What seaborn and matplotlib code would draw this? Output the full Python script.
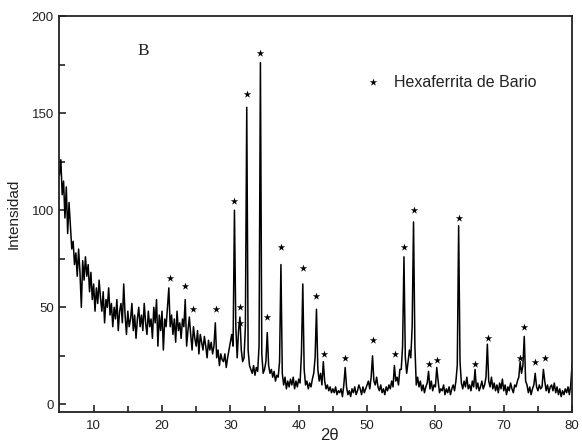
import numpy as np
import pandas as pd
import matplotlib
matplotlib.use("Agg")
import matplotlib.pyplot as plt
import seaborn as sns

# 2-theta grid (5.0 .. 80.0, step 0.2) and intensity
two_theta = np.round(np.arange(5.0, 80.0001, 0.2), 1)
intensity = [
    118, 126, 108, 115, 96, 112, 88, 104, 92, 80,      # 5.0-6.8
    84, 72, 78, 66, 80, 68, 50, 74, 64, 76,            # 7.0-8.8
    66, 72, 58, 68, 54, 62, 48, 60, 52, 64,            # 9.0-10.8
    55, 48, 58, 42, 54, 50, 60, 46, 52, 40,            # 11.0-12.8
    50, 44, 54, 38, 48, 52, 42, 62, 46, 36,            # 13.0-14.8
    48, 40, 44, 52, 38, 46, 34, 44, 50, 40,            # 15.0-16.8
    46, 38, 52, 42, 36, 48, 40, 44, 34, 50,            # 17.0-18.8
    42, 54, 30, 46, 38, 48, 28, 44, 40, 50,            # 19.0-20.8
    60, 40, 46, 36, 44, 32, 48, 38, 42, 34,            # 21.0-22.8
    44, 40, 54, 30, 38, 45, 36, 28, 40, 34,            # 23.0-24.8
    30, 38, 26, 36, 32, 28, 35, 30, 24, 33,            # 25.0-26.8
    28, 32, 26, 30, 42, 24, 28, 20, 26, 23,            # 27.0-28.8
    22, 26, 19, 24, 28, 32, 36, 30, 100, 40,           # 29.0-30.8
    24, 38, 45, 28, 22, 24, 40, 153, 28, 20,           # 31.0-32.8
    18, 16, 20, 15, 19, 17, 30, 176, 26, 16,           # 33.0-34.8
    18, 22, 37, 20, 16, 18, 14, 17, 12, 15,            # 35.0-36.8
    14, 22, 72, 16, 10, 14, 8, 12, 9, 13,              # 37.0-38.8
    10, 14, 8, 12, 9, 13, 11, 26, 62, 18,              # 39.0-40.8
    10, 12, 8, 11, 9, 13, 16, 24, 49, 18,              # 41.0-42.8
    12, 16, 10, 22, 12, 8, 10, 7, 9, 6,                # 43.0-44.8
    8, 6, 9, 5, 7, 6, 8, 4, 10, 19,                    # 45.0-46.8
    9, 5, 7, 4, 8, 6, 9, 5, 7, 10,                     # 47.0-48.8
    8, 5, 9, 6, 8, 10, 12, 8, 14, 25,                  # 49.0-50.8
    12, 10, 14, 9, 7, 10, 6, 8, 5, 9,                  # 51.0-52.8
    7, 10, 8, 12, 9, 20, 12, 14, 10, 18,               # 53.0-54.8
    18, 30, 76, 24, 16, 22, 28, 24, 40, 94,            # 55.0-56.8
    30, 10, 14, 9, 12, 7, 10, 6, 9, 11,                # 57.0-58.8
    17, 8, 12, 7, 10, 9, 19, 12, 6, 8,                 # 59.0-60.8
    7, 10, 5, 8, 6, 9, 5, 8, 10, 7,                    # 61.0-62.8
    12, 20, 92, 22, 11, 8, 12, 9, 14, 8,               # 63.0-64.8
    10, 7, 12, 9, 18, 8, 11, 7, 9, 12,                 # 65.0-66.8
    8, 10, 14, 31, 12, 9, 14, 8, 11, 7,                # 67.0-68.8
    10, 6, 11, 8, 13, 7, 10, 5, 9, 7,                  # 69.0-70.8
    11, 8, 6, 10, 9, 12, 14, 22, 16, 20,               # 71.0-72.8
    35, 12, 10, 6, 9, 5, 8, 10, 16, 9,                 # 73.0-74.8
    7, 10, 8, 9, 18, 12, 7, 10, 6, 9,                  # 75.0-76.8
    10, 7, 11, 6, 9, 5, 8, 4, 7, 5,                    # 77.0-78.8
    8, 6, 9, 5, 10, 21,                                # 79.0-80.0
]

# star markers (hexaferrite reflections)
star_x = [21.1, 23.4, 24.5, 27.9, 30.5, 31.4, 31.4, 32.4, 34.3, 35.4, 37.4,
          40.6, 42.6, 43.7, 46.8, 50.8, 54.1, 55.4, 56.9, 59.1, 60.3, 63.5,
          65.8, 67.7, 72.4, 73.0, 74.6, 76.0]
star_y = [65, 61, 49, 49, 105, 50, 42, 160, 181, 45, 81,
          70, 56, 26, 24, 33, 26, 81, 100, 21, 23, 96,
          21, 34, 24, 40, 22, 24]

x_ticks = [10, 20, 30, 40, 50, 60, 70, 80]
y_ticks = [0, 50, 100, 150, 200]

df = pd.DataFrame({"2θ": two_theta, "Intensidad": intensity})

sns.set_theme(style="ticks")
plt.rcParams["font.family"] = ["Liberation Sans", "DejaVu Sans"]

fig = plt.figure(figsize=(5.82, 4.47), dpi=100)
ax = fig.add_axes([0.101, 0.078, 0.882, 0.886])

sns.lineplot(data=df, x="2θ", y="Intensidad", ax=ax, color="black",
             linewidth=1.1, estimator=None, sort=True)
ax.scatter(star_x, star_y, marker="*", s=32, color="black", zorder=3,
           linewidths=0)

# legend-like annotation
ax.scatter([50.8], [166], marker="*", s=32, color="black", linewidths=0)
ax.text(54.0, 166, "Hexaferrita de Bario", fontsize=11.5, va="center",
        ha="left", color="#222222")
ax.text(17.2, 182, "B", fontsize=12.5, va="center", ha="center",
        family=["Liberation Serif", "DejaVu Serif"], color="#222222")

ax.set_xlim(4.9, 80)
ax.set_ylim(-4, 200)
ax.set_xticks(x_ticks)
ax.set_yticks(y_ticks)
ax.set_xticks([15, 25, 35, 45, 55, 65, 75], minor=True)
ax.set_yticks([25, 75, 125, 175], minor=True)
ax.tick_params(axis="both", which="both", direction="in", top=False,
               right=False, labelsize=9.5, colors="#222222", width=1.2)
ax.tick_params(which="major", length=5)
ax.tick_params(which="minor", length=4)
ax.tick_params(axis="x", pad=6)
for s in ax.spines.values():
    s.set_linewidth(1.3)
    s.set_color("#222222")

ax.set_xlabel("2θ", fontsize=12, color="#222222")
ax.set_ylabel("Intensidad", fontsize=11, color="#222222")
ax.xaxis.set_label_coords(0.528, -0.04)
ax.yaxis.set_label_coords(-0.075, 0.5)

fig.savefig("out.png", dpi=100)
